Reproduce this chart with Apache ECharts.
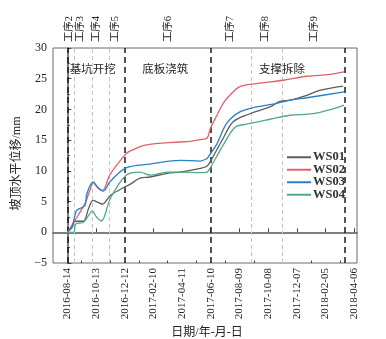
<!DOCTYPE html>
<html><head><meta charset="utf-8">
<script src="https://cdn.jsdelivr.net/npm/echarts@6/dist/echarts.min.js"></script>
<style>html,body{margin:0;padding:0;background:#fff}#c{width:386px;height:339px}</style>
</head><body><div id="c"></div>
<script>
// Days counted from the base date 2016-08-14
var baseDate = '2016-08-14';
var xTickLabels = ['2016-08-14','2016-10-13','2016-12-12','2017-02-10','2017-04-11','2017-06-10','2017-08-09','2017-10-08','2017-12-07','2018-02-05','2018-04-06'];
var yTicks = [-5,0,5,10,15,20,25,30];
var seriesNames = ['WS01','WS02','WS03','WS04'];
var ws01 = [[0,0],[10,0.8],[16,1.8],[33,1.8],[45,4.0],[54,5.2],[63,4.9],[73,4.6],[90,6.0],[123,7.5],[131,7.8],[152,8.8],[173,9.0],[209,9.6],[236,9.8],[278,10.4],[292,10.75],[299,11.5],[326,15.3],[347,18.0],[382,19.3],[424,20.4],[445,21.3],[466,21.5],[501,22.3],[528,23.1],[577,23.8]];
var ws02 = [[0,0],[16,1.95],[37,4.7],[47,6.8],[54,8.1],[63,7.3],[73,6.8],[90,9.5],[123,12.8],[131,13.2],[163,14.2],[236,14.7],[257,14.8],[278,15.1],[292,15.3],[299,16.9],[313,19.05],[326,21.0],[340,22.3],[361,23.7],[396,24.2],[452,24.75],[501,25.4],[550,25.7],[579,26.1]];
var ws03 = [[0,0],[10,1.0],[16,2.8],[20,3.6],[27,3.9],[37,4.4],[41,6.3],[54,8.2],[64,7.3],[75,6.7],[90,8.3],[123,10.5],[173,11.1],[236,11.7],[278,11.6],[292,12.0],[295,12.3],[313,14.4],[333,17.7],[361,19.6],[396,20.4],[438,21.0],[466,21.5],[501,21.9],[579,22.85]];
var ws04 = [[0,0],[13,0],[18,1.4],[33,1.6],[45,2.8],[52,3.5],[60,2.6],[71,1.84],[90,5.5],[123,9.3],[152,9.8],[173,9.3],[209,9.8],[236,9.8],[278,9.7],[292,9.8],[299,10.5],[326,14.2],[351,17.1],[375,17.6],[424,18.4],[466,19.05],[514,19.3],[556,20.1],[579,20.7]];
var stageLineDays = [0,120,300,580];          // black dashed lines
var stepLineDays = [15,52,87,384,450];         // light gray dashed lines
var stepLabels = ['工序2','工序3','工序4','工序5','工序6','工序7','工序8','工序9'];
var stepLabelDays = [3,28,60,101,211,341,415,517];
var stageLabels = ['基坑开挖','底板浇筑','支撑拆除'];
var stageLabelDays = [53,205,449];
var stageLabelValue = 26.5;

var colors = ['#5c5c5c','#e0616b','#2a7fc9','#4eab85'];
var FONT = "'Liberation Serif','Noto Sans CJK SC',serif";
var DAY = 86400000;
var base = Date.parse(baseDate + 'T00:00:00Z');
function dayOf(s){ return Math.round((Date.parse(s + 'T00:00:00Z') - base) / DAY); }
function fmt(d){ var t = new Date(base + d*DAY); var m = t.getUTCMonth()+1, dd = t.getUTCDate(); return t.getUTCFullYear()+'-'+(m<10?'0':'')+m+'-'+(dd<10?'0':'')+dd; }
var tickDays = xTickLabels.map(dayOf);
var minorDays = [];
for (var i=0;i<tickDays.length-1;i++) minorDays.push((tickDays[i]+tickDays[i+1])/2);

var chart = echarts.init(document.getElementById('c'));
var markData = stageLineDays.map(function(d){return {xAxis:d, lineStyle:{color:'#1a1a1a',width:1.5,type:[6,4]}};})
  .concat(stepLineDays.map(function(d){return {xAxis:d, lineStyle:{color:'#c4c4c4',width:1,type:[4,3]}};}));
var dataArr = [ws01,ws02,ws03,ws04];
var series = seriesNames.map(function(n,i){
  var s = {name:n,type:'line',xAxisIndex:0,data:dataArr[i],showSymbol:false,symbol:'none',smooth:0.35,
    lineStyle:{color:colors[i],width:1.3},itemStyle:{color:colors[i]},z:3};
  if (i===0) s.markLine = {silent:true,symbol:'none',label:{show:false},data:markData,z:1};
  return s;
});
chart.setOption({
  animation:false,
  backgroundColor:'#fff',
  textStyle:{fontFamily:FONT},
  grid:{left:53,right:29,top:48,bottom:76,outerBoundsMode:'none',containLabel:false,show:true,borderColor:'#6a6a6a',borderWidth:1},
  legend:{data:seriesNames,orient:'vertical',left:282,top:146,itemWidth:24,itemHeight:2,itemGap:0,icon:'rect',
    textStyle:{fontFamily:FONT,fontWeight:'bold',fontSize:12.5,color:'#333',lineHeight:12.3,padding:[0,0,0,-3]}},
  xAxis:[{type:'value',min:-30,max:606,
    axisLine:{lineStyle:{color:'#555',width:1.5}},
    axisTick:{inside:true,length:4,customValues:tickDays,lineStyle:{color:'#444'}},
    axisLabel:{customValues:tickDays,rotate:90,fontSize:11,color:'#222',margin:5,fontFamily:FONT,formatter:function(v){return fmt(v);}},
    splitLine:{show:false},
    name:'日期/年-月-日',nameLocation:'middle',nameGap:60,nameTextStyle:{fontSize:12,color:'#222',fontFamily:FONT,padding:[0,0,0,4]}},
   {type:'value',min:-30,max:606,position:'bottom',
    axisLine:{show:false},axisLabel:{show:false},splitLine:{show:false},
    axisTick:{inside:true,length:2.5,customValues:minorDays,lineStyle:{color:'#444'}}}],
  yAxis:{type:'value',min:yTicks[0],max:yTicks[yTicks.length-1],interval:5,
    axisLine:{show:true,lineStyle:{color:'#555',width:1.5}},
    axisTick:{show:true,inside:true,length:4,lineStyle:{color:'#444'}},
    minorTick:{show:true,splitNumber:2,length:2.5,lineStyle:{color:'#444'}},
    splitLine:{show:false},
    axisLabel:{fontSize:12,color:'#222',margin:6,fontFamily:FONT,formatter:function(v){return v<0?'\u2212'+(-v):String(v);}},
    name:'坡顶水平位移/mm',nameLocation:'middle',nameGap:30,nameRotate:90,nameTextStyle:{fontSize:12,color:'#222',fontFamily:FONT,padding:[0,16,0,0]}},
  series:series
});
var g = [];
stepLabels.forEach(function(t,i){
  var p = chart.convertToPixel({xAxisIndex:0,yAxisIndex:0},[stepLabelDays[i],0]);
  g.push({type:'text',x:p[0],y:29,rotation:Math.PI/2,silent:true,
    style:{text:t,fontSize:10.5,fontFamily:FONT,fill:'#222',align:'center',verticalAlign:'middle'}});
});
stageLabels.forEach(function(t,i){
  var p = chart.convertToPixel({xAxisIndex:0,yAxisIndex:0},[stageLabelDays[i],stageLabelValue]);
  g.push({type:'text',x:p[0],y:p[1],silent:true,
    style:{text:t,fontSize:11.5,fontFamily:FONT,fill:'#222',align:'center',verticalAlign:'middle'}});
});
chart.setOption({graphic:g});
</script></body></html>
